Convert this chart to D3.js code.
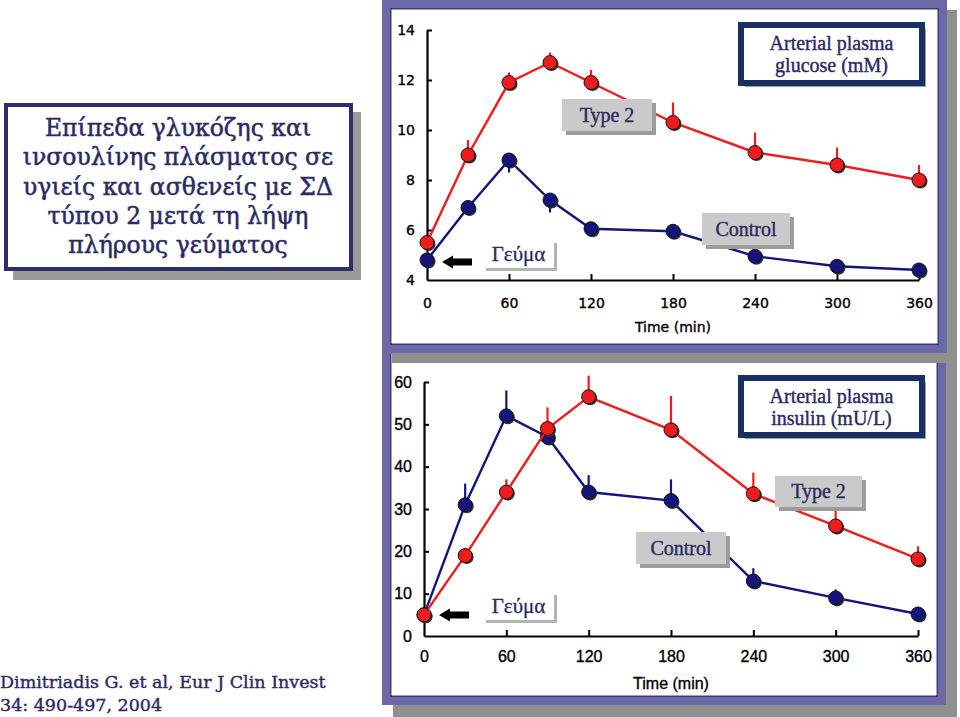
<!DOCTYPE html>
<html><head><meta charset="utf-8">
<script src="https://cdn.jsdelivr.net/npm/d3@7"></script>
<style>html,body{margin:0;padding:0;background:#fff;}svg{display:block;}</style>
</head><body>
<svg id="c" width="960" height="717"></svg>
<script>
// ---- data ----
const times = [0, 30, 60, 90, 120, 180, 240, 300, 360];
const glucoseType2 = [5.5, 9.0, 11.9, 12.7, 11.9, 10.3, 9.1, 8.6, 8.0];
const glucoseType2Err = [0, 0.6, 0.4, 0.4, 0.5, 0.8, 0.8, 0.7, 0.6];
const glucoseControl = [4.8, 6.9, 8.8, 7.2, 6.05, 5.95, 4.95, 4.55, 4.4];
const glucoseControlErr = [0, 0, 0.5, 0.5, 0, 0, 0, 0, 0]; // drawn downward
const insulinType2 = [5, 19, 34, 49, 56.5, 48.7, 33.6, 26, 18.2];
const insulinType2Err = [0, 1.8, 3, 5, 5, 8, 5, 4.5, 3];
const insulinControl = [5, 31, 52, 47, 34, 32, 13, 9, 5.2];
const insulinControlErr = [0, 5, 6, 0, 4, 5, 3, 2, 0];
const timeTicks = [0, 60, 120, 180, 240, 300, 360];
const glucoseTicks = [4, 6, 8, 10, 12, 14];
const insulinTicks = [0, 10, 20, 30, 40, 50, 60];
const titleLines = ["Επίπεδα γλυκόζης και", "ινσουλίνης πλάσματος σε", "υγιείς και ασθενείς με ΣΔ", "τύπου 2 μετά τη λήψη", "πλήρους γεύματος"];
const citeLines = ["Dimitriadis G. et al,  Eur J Clin Invest", "34: 490-497, 2004"];
const glucoseTitle = ["Arterial plasma", "glucose (mM)"];
const insulinTitle = ["Arterial plasma", "insulin (mU/L)"];
const mealLabel = "Γεύμα";
const type2Label = "Type 2";
const controlLabel = "Control";
const xAxisLabel = "Time (min)";

// ---- styles ----
const RED = "#ee1c1c", BLUE = "#14147a", NAVY_TXT = "#2b2a62";
const FRAME = "#6c69a6", FRAME_IN = "#3e3a80", SHADOW = "#8f8f8f";
const SERIF = "'Liberation Serif','DejaVu Serif',serif";
const SERIF2 = "'DejaVu Serif','Liberation Serif',serif";

const svg = d3.select("#c");

function panelFrame(x0, y0, x1, y1, sdx, sdy) {
  svg.append("rect").attr("x", x0 + sdx).attr("y", y0 + sdy).attr("width", x1 - x0).attr("height", y1 - y0).attr("fill", SHADOW);
  svg.append("rect").attr("x", x0).attr("y", y0).attr("width", x1 - x0).attr("height", y1 - y0).attr("fill", FRAME);
  svg.append("rect").attr("x", x0 + 8).attr("y", y0 + 8).attr("width", x1 - x0 - 16).attr("height", y1 - y0 - 16).attr("fill", FRAME_IN);
  svg.append("rect").attr("x", x0 + 9.5).attr("y", y0 + 9.5).attr("width", x1 - x0 - 19).attr("height", y1 - y0 - 19).attr("fill", "#fff");
}

// bottom panel first (its top is hidden under the top panel)
panelFrame(382, 340, 946, 705, 11, 12);
panelFrame(382, 0, 947, 353, 10, 10);

// ---- title box ----
svg.append("rect").attr("x", 13).attr("y", 112).attr("width", 348).attr("height", 168).attr("fill", "#9a9a9a");
svg.append("rect").attr("x", 6).attr("y", 105).attr("width", 345).attr("height", 164).attr("fill", "#fff").attr("stroke", "#2d2d6c").attr("stroke-width", 4);
svg.append("g").selectAll("text").data(titleLines).join("text")
  .attr("x", 178).attr("y", (d, i) => 136 + i * 29.3)
  .attr("text-anchor", "middle").attr("font-family", SERIF2).attr("font-size", 23.5)
  .attr("fill", NAVY_TXT).attr("stroke", NAVY_TXT).attr("stroke-width", 0.5).text(d => d);

// ---- citation ----
svg.append("g").selectAll("text").data(citeLines).join("text")
  .attr("x", 0).attr("y", (d, i) => 688 + i * 23)
  .attr("font-family", SERIF2).attr("font-size", 17.5)
  .attr("fill", NAVY_TXT).attr("stroke", NAVY_TXT).attr("stroke-width", 0.4).text(d => d);

function drawChart(cfg) {
  const x = d3.scaleLinear().domain([0, 360]).range(cfg.xr);
  const y = d3.scaleLinear().domain(cfg.yd).range(cfg.yr);
  const g = svg.append("g");

  // axes
  const xa = g.append("g").attr("transform", `translate(0,${cfg.yr[0]})`)
    .call(d3.axisBottom(x).tickValues(timeTicks).tickSize(-6).tickSizeOuter(0).tickPadding(cfg.xpad));
  const ya = g.append("g").attr("transform", `translate(${cfg.xr[0]},0)`)
    .call(d3.axisLeft(y).tickValues(cfg.yticks).tickSize(-5).tickSizeOuter(0).tickPadding(cfg.ypad));
  [xa, ya].forEach(a => {
    a.select(".domain").attr("stroke", "#000").attr("stroke-width", 2.2);
    a.selectAll(".tick line").attr("stroke", "#000").attr("stroke-width", 2);
    a.selectAll("text").attr("font-family", cfg.font).attr("font-size", cfg.fs)
      .attr("font-weight", cfg.fw).attr("fill", "#000").attr("stroke", "#000").attr("stroke-width", 0.35);
  });
  ya.selectAll(".tick line").filter(d => d === cfg.yd[0]).remove();
  xa.selectAll(".tick line").filter(d => d === 0).remove();
  g.append("text").attr("x", x(180)).attr("y", cfg.xlabY).attr("text-anchor", "middle")
    .attr("font-family", cfg.font).attr("font-size", cfg.fs).attr("font-weight", cfg.fw)
    .attr("stroke", "#000").attr("stroke-width", 0.35).text(xAxisLabel);

  const line = d3.line().x((d, i) => x(times[i])).y(d => y(d));
  function series(vals, errs, color, dir) {
    const sg = g.append("g");
    sg.selectAll("line.err").data(vals).join("line").attr("class", "err")
      .attr("x1", (d, i) => x(times[i])).attr("x2", (d, i) => x(times[i]))
      .attr("y1", d => y(d)).attr("y2", (d, i) => y(d + dir * errs[i]))
      .attr("stroke", color).attr("stroke-width", 2.2);
    sg.append("path").datum(vals).attr("d", line).attr("fill", "none")
      .attr("stroke", color).attr("stroke-width", 2.4);
    sg.selectAll("circle.sh").data(vals).join("circle").attr("class", "sh")
      .attr("cx", (d, i) => x(times[i]) + 1.5).attr("cy", d => y(d) + 1.5).attr("r", 7)
      .attr("fill", "#333");
    sg.selectAll("circle.pt").data(vals).join("circle").attr("class", "pt")
      .attr("cx", (d, i) => x(times[i])).attr("cy", d => y(d)).attr("r", 7)
      .attr("fill", color).attr("stroke", "#111").attr("stroke-width", 1);
  }
  series(cfg.ctrl, cfg.ctrlErr, BLUE, cfg.ctrlDir);
  series(cfg.t2, cfg.t2Err, RED, 1);

  // title box
  const tb = cfg.titleBox;
  g.append("rect").attr("x", tb[0] + 4).attr("y", tb[1] + 4).attr("width", tb[2]).attr("height", tb[3]).attr("fill", "#a0a0a0");
  g.append("rect").attr("x", tb[0]).attr("y", tb[1]).attr("width", tb[2]).attr("height", tb[3])
    .attr("fill", "#fff").attr("stroke", "#163062").attr("stroke-width", 6);
  g.selectAll("text.tt").data(cfg.title).join("text").attr("class", "tt")
    .attr("x", tb[0] + tb[2] / 2).attr("y", (d, i) => tb[1] + 25 + i * 22)
    .attr("text-anchor", "middle").attr("font-family", SERIF).attr("font-size", 20)
    .attr("fill", NAVY_TXT).attr("stroke", NAVY_TXT).attr("stroke-width", 0.4).text(d => d);

  function grayBox(b, label) {
    g.append("rect").attr("x", b[0] + 4).attr("y", b[1] + 4).attr("width", b[2]).attr("height", b[3]).attr("fill", "#9c9c9c");
    g.append("rect").attr("x", b[0]).attr("y", b[1]).attr("width", b[2]).attr("height", b[3]).attr("fill", "#cacaca");
    g.append("text").attr("x", b[0] + b[2] / 2).attr("y", b[1] + b[3] / 2 + 6.5).attr("text-anchor", "middle")
      .attr("font-family", SERIF).attr("font-size", 20).attr("fill", NAVY_TXT)
      .attr("stroke", NAVY_TXT).attr("stroke-width", 0.4).text(label);
  }
  grayBox(cfg.t2Box, type2Label);
  grayBox(cfg.ctrlBox, controlLabel);

  // meal box
  const mb = cfg.mealBox;
  g.append("rect").attr("x", mb[0] + 3).attr("y", mb[1] + 3).attr("width", mb[2]).attr("height", mb[3]).attr("fill", "#b4b4b4");
  g.append("rect").attr("x", mb[0]).attr("y", mb[1]).attr("width", mb[2]).attr("height", mb[3]).attr("fill", "#fff");
  g.append("text").attr("x", mb[0] + mb[2] / 2).attr("y", mb[1] + mb[3] / 2 + 7).attr("text-anchor", "middle")
    .attr("font-family", SERIF).attr("font-size", 21).attr("fill", NAVY_TXT)
    .attr("stroke", NAVY_TXT).attr("stroke-width", 0.3).text(mealLabel);

  // arrow
  const ay = cfg.arrowY, ax = cfg.xr[0] + 15;
  g.append("path").attr("d", `M${ax},${ay} L${ax + 11},${ay - 6.5} L${ax + 11},${ay - 3.5} L${ax + 30},${ay - 3.5} L${ax + 30},${ay + 3.5} L${ax + 11},${ay + 3.5} L${ax + 11},${ay + 6.5} Z`)
    .attr("fill", "#000");
}

drawChart({
  xr: [427, 919], yd: [4, 14], yr: [280, 30], yticks: glucoseTicks,
  font: "'DejaVu Sans',sans-serif", fs: 14, fw: "normal", xpad: 18, ypad: 12, xlabY: 332,
  t2: glucoseType2, t2Err: glucoseType2Err, ctrl: glucoseControl, ctrlErr: glucoseControlErr, ctrlDir: -1,
  title: glucoseTitle, titleBox: [741, 25, 181, 58],
  t2Box: [562, 99, 90, 32], ctrlBox: [702, 213, 88, 32], mealBox: [483, 240, 71, 28], arrowY: 262
});

drawChart({
  xr: [424, 918], yd: [0, 60], yr: [636, 382], yticks: insulinTicks,
  font: "'Liberation Sans',Arial,sans-serif", fs: 16, fw: "normal", xpad: 15, ypad: 12, xlabY: 689,
  t2: insulinType2, t2Err: insulinType2Err, ctrl: insulinControl, ctrlErr: insulinControlErr, ctrlDir: 1,
  title: insulinTitle, titleBox: [741, 378, 181, 57],
  t2Box: [775, 476, 87, 31], ctrlBox: [636, 532, 90, 32], mealBox: [483, 592, 71, 28], arrowY: 615
});
</script>
</body></html>
